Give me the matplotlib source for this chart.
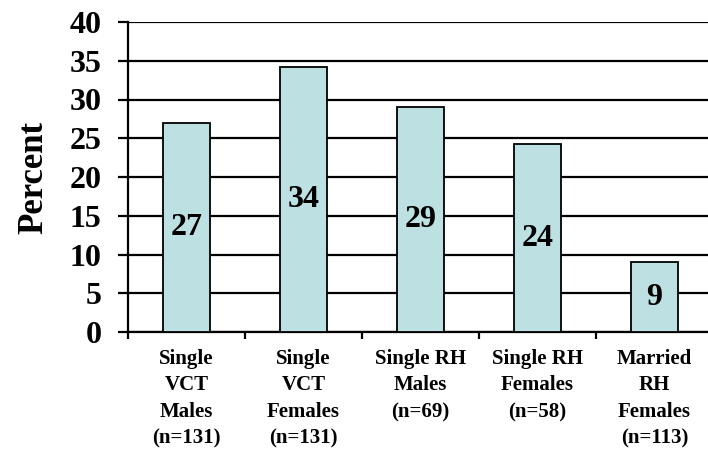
import matplotlib
matplotlib.use("Agg")
import matplotlib.pyplot as plt
from matplotlib.ticker import FixedLocator

categories = [
    "Single\nVCT\nMales\n(n=131)",
    "Single\nVCT\nFemales\n(n=131)",
    "Single RH\nMales\n(n=69)",
    "Single RH\nFemales\n(n=58)",
    "Married\nRH\nFemales\n(n=113)",
]
percent = [27, 34.2, 29, 24.2, 9]
value_labels = ["27", "34", "29", "24", "9"]
y_ticks = [0, 5, 10, 15, 20, 25, 30, 35, 40]

plt.rcParams["font.family"] = ["Liberation Serif", "DejaVu Serif"]
plt.rcParams["font.weight"] = "bold"

fig = plt.figure(figsize=(7.08, 4.58), dpi=100)
W, H = 708, 458
ax = fig.add_axes([128 / W, (H - 332) / H, 585 / W, 310 / H])

x = list(range(len(categories)))
ax.bar(x, percent, width=0.4, color="#bde0e3", edgecolor="black",
       linewidth=1.3, zorder=3)

for xi, v, lab in zip(x, percent, value_labels):
    ax.text(xi, v / 2, lab, ha="center", va="center", fontsize=23,
            fontweight="bold", zorder=4)

ax.set_xlim(-0.5, len(categories) - 0.5)
ax.set_ylim(0, 40)
ax.set_yticks(y_ticks)
ax.yaxis.grid(True, color="black", linewidth=1.6, zorder=0)
ax.set_axisbelow(True)

for side in ("top", "right"):
    ax.spines[side].set_visible(False)
ax.spines["left"].set_linewidth(1.6)
ax.spines["bottom"].set_linewidth(1.6)

ax.tick_params(axis="y", direction="out", length=7, width=1.6,
               labelsize=23, pad=12)
ax.set_xticks(x)
ax.set_xticklabels(categories, fontsize=15, fontweight="bold",
                   linespacing=1.45)
ax.tick_params(axis="x", which="major", length=0, pad=12)
ax.xaxis.set_minor_locator(FixedLocator([i - 0.5 for i in range(len(categories) + 1)]))
ax.tick_params(axis="x", which="minor", direction="out", length=5, width=1.6)

for lbl in ax.get_yticklabels():
    lbl.set_fontweight("bold")

ax.set_ylabel("Percent", fontsize=25, fontweight="bold", labelpad=14)

fig.savefig("out.png", dpi=100)
